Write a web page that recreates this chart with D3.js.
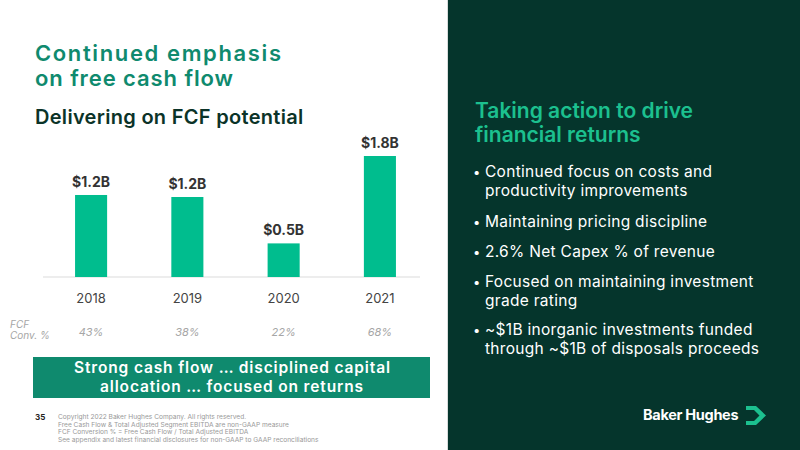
<!DOCTYPE html>
<html><head><meta charset="utf-8">
<script src="https://cdn.jsdelivr.net/npm/d3@7"></script>
<style>
html,body{margin:0;padding:0;background:#fff;}
svg{display:block;font-family:Inter,"Open Sans",sans-serif;}
</style></head>
<body>
<svg id="c" width="800" height="450"></svg>
<script>
const years = ["2018","2019","2020","2021"];
const fcfValues = [1.22, 1.19, 0.50, 1.80];
const fcfLabels = ["$1.2B","$1.2B","$0.5B","$1.8B"];
const convPct = ["43%","38%","22%","68%"];
const bullets = [
  ["Continued focus on costs and","productivity improvements"],
  ["Maintaining pricing discipline"],
  ["2.6% Net Capex % of revenue"],
  ["Focused on maintaining investment","grade rating"],
  ["~$1B inorganic investments funded","through ~$1B of disposals proceeds"]
];
const footnotes = [
  "Copyright 2022 Baker Hughes Company. All rights reserved.",
  "Free Cash Flow & Total Adjusted Segment EBITDA are non-GAAP measure",
  "FCF Conversion % = Free Cash Flow / Total Adjusted EBITDA",
  "See appendix and latest financial disclosures for non-GAAP to GAAP reconciliations"
];

const svg = d3.select("#c");

// right panel
svg.append("rect").attr("x",447).attr("y",0).attr("width",1).attr("height",450).attr("fill","#d8dcdb");
svg.append("rect").attr("x",448).attr("y",0).attr("width",352).attr("height",450).attr("fill","#05352c");

// titles
svg.append("text").attr("x",35).attr("y",60.5).attr("fill","#0f8a6e").attr("font-size",22).attr("font-weight",600)
  .attr("textLength",246).attr("lengthAdjust","spacing").text("Continued emphasis");
svg.append("text").attr("x",35).attr("y",85.5).attr("fill","#0f8a6e").attr("font-size",22).attr("font-weight",600)
  .attr("textLength",198).attr("lengthAdjust","spacing").text("on free cash flow");
svg.append("text").attr("x",35).attr("y",124).attr("fill","#0b3328").attr("font-size",20).attr("font-weight",600).attr("letter-spacing",0.3).text("Delivering on FCF potential");

// chart
const x = d3.scaleBand().domain(years).range([43,428]).paddingInner(0.667).paddingOuter(0.333);
const y = d3.scaleLinear().domain([0,1.8]).range([277,156]);

svg.append("line").attr("x1",43).attr("x2",420).attr("y1",277).attr("y2",277).attr("stroke","#dcdcdc").attr("stroke-width",1.2);

const g = svg.append("g");
g.selectAll("rect.bar").data(years).join("rect").attr("class","bar")
  .attr("x",d=>x(d)).attr("width",x.bandwidth())
  .attr("y",(d,i)=>y(fcfValues[i])).attr("height",(d,i)=>y(0)-y(fcfValues[i]))
  .attr("fill","#00bd8e");
g.selectAll("text.lab").data(years).join("text").attr("class","lab")
  .attr("x",d=>x(d)+x.bandwidth()/2).attr("y",(d,i)=>y(fcfValues[i])-8)
  .attr("text-anchor","middle").attr("font-size",14).attr("font-weight",700).attr("fill","#333")
  .text((d,i)=>fcfLabels[i]);

const xAxis = d3.axisBottom(x).tickSize(0).tickPadding(0);
const ax = svg.append("g").attr("transform","translate(0,277)").call(xAxis);
ax.select(".domain").remove();
ax.selectAll("text").attr("dy",null).attr("y",26).attr("font-size",13).attr("fill","#444").attr("font-family","Inter,'Open Sans',sans-serif");

g.selectAll("text.pct").data(years).join("text").attr("class","pct")
  .attr("x",d=>x(d)+x.bandwidth()/2).attr("y",336)
  .attr("text-anchor","middle").attr("font-size",11).attr("font-style","italic").attr("fill","#a6a6a6")
  .text((d,i)=>convPct[i]);
const fl = svg.append("text").attr("font-size",10).attr("font-style","italic").attr("fill","#a6a6a6");
fl.append("tspan").attr("x",10).attr("y",328).text("FCF");
fl.append("tspan").attr("x",10).attr("y",339).text("Conv. %");

// green box
svg.append("rect").attr("x",33).attr("y",357).attr("width",397).attr("height",41).attr("fill","#0f8a6e");
svg.append("text").attr("x",74).attr("y",373).attr("fill","#fff").attr("font-size",15.5).attr("font-weight",600)
  .attr("textLength",316).attr("lengthAdjust","spacing").text("Strong cash flow … disciplined capital");
svg.append("text").attr("x",100).attr("y",392).attr("fill","#fff").attr("font-size",15.5).attr("font-weight",600)
  .attr("textLength",263).attr("lengthAdjust","spacing").text("allocation … focused on returns");

// footer
svg.append("text").attr("x",35).attr("y",420).attr("font-size",8).attr("font-weight",700).attr("fill","#222").text("35");
svg.append("g").selectAll("text").data(footnotes).join("text")
  .attr("x",58).attr("y",(d,i)=>419+i*7.5).attr("font-size",6.6).attr("fill","#999").text(d=>d);

// right panel text
const rt = svg.append("text").attr("fill","#1cc08f").attr("font-size",21).attr("font-weight",600);
rt.append("tspan").attr("x",475).attr("y",118).text("Taking action to drive");
rt.append("tspan").attr("x",475).attr("y",142).text("financial returns");

const bulletY = [[177,196],[227],[257],[287,306],[335,354]];
const bg = svg.append("g").attr("fill","#fff").attr("font-size",15.5).attr("letter-spacing",0.3);
bullets.forEach((lines,i)=>{
  bg.append("text").attr("x",473).attr("y",bulletY[i][0]).attr("font-size",13).text("•");
  lines.forEach((l,j)=>{
    bg.append("text").attr("x",485).attr("y",bulletY[i][j]).text(l);
  });
});

// logo
svg.append("text").attr("x",643).attr("y",420).attr("fill","#fff").attr("font-size",14.5).attr("font-weight",700).attr("letter-spacing",-0.3).text("Baker Hughes");
svg.append("path")
  .attr("d","M746,406 L756,406 L766,415.5 L756,425 L746,425 L746,421 L754,421 L759.5,415.5 L754,410 L746,410 Z")
  .attr("fill","#1cc08f");
</script>
</body></html>
